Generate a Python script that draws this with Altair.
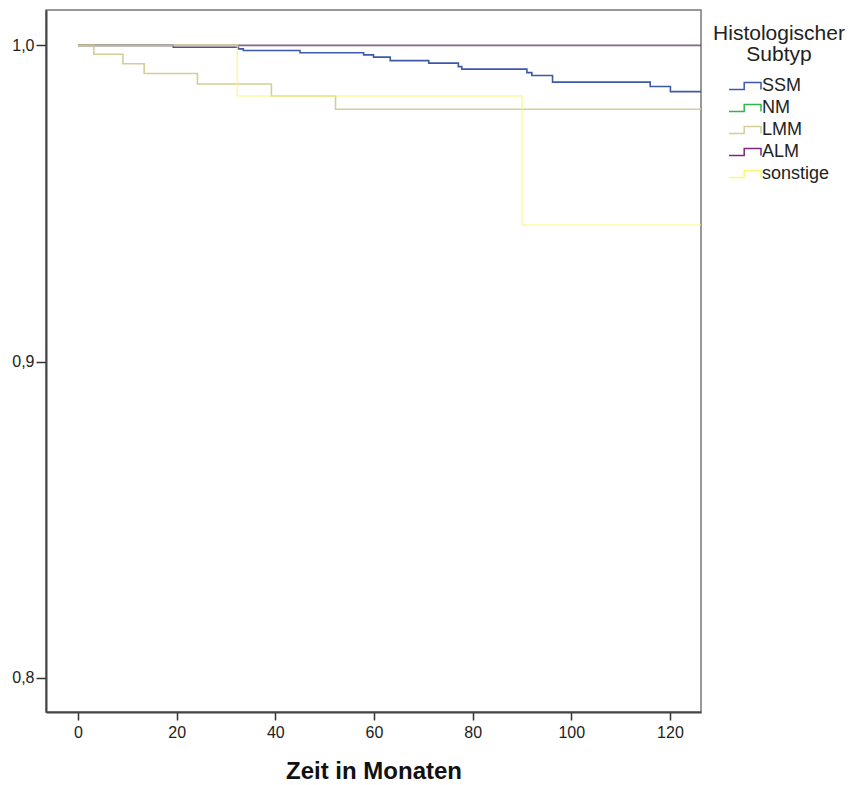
import altair as alt
import pandas as pd

# Kaplan-Meier step curves (time in months, cumulative survival)
series_names = ["SSM", "NM", "LMM", "ALM", "sonstige"]
series_colors = ["#3E58AC", "#2EB848", "#D3CE97", "#7C287D", "#FBF873"]
series_opacity = [1.0, 0.25, 1.0, 0.7, 0.65]

ssm_t = [0, 19.3, 32.5, 33.5, 45.0, 57.9, 59.9, 63.3, 71.1, 77.1, 77.8, 91.0, 92.0, 96.2, 116.0, 120.1, 126.3]
ssm_s = [1.0, 0.9994, 0.9989, 0.9984, 0.9977, 0.9970, 0.9963, 0.9952, 0.9944, 0.9933, 0.9925, 0.9914, 0.9905, 0.9884, 0.9870, 0.9854, 0.9854]

nm_t = [0, 126.3]
nm_s = [1.0, 1.0]

lmm_t = [0, 3.2, 9.1, 13.4, 24.2, 39.2, 52.2, 126.3]
lmm_s = [1.0, 0.9972, 0.9942, 0.9911, 0.9878, 0.9840, 0.9798, 0.9798]

alm_t = [0, 126.3]
alm_s = [1.0, 1.0]

sonst_t = [0, 32.3, 90.0, 126.3]
sonst_s = [1.0, 0.9840, 0.9432, 0.9432]

x_ticks = [0, 20, 40, 60, 80, 100, 120]
y_ticks = [0.8, 0.9, 1.0]

rows = []
for name, ts, ss in [("SSM", ssm_t, ssm_s), ("NM", nm_t, nm_s), ("LMM", lmm_t, lmm_s),
                     ("ALM", alm_t, alm_s), ("sonstige", sonst_t, sonst_s)]:
    for i, (t, s) in enumerate(zip(ts, ss)):
        rows.append({"Subtyp": name, "t": t, "s": s, "i": i})
df = pd.DataFrame(rows)

FONT = "Liberation Sans"

x_enc = alt.X("t:Q", scale=alt.Scale(domain=[-6.5, 126.3], nice=False, zero=False),
              axis=alt.Axis(values=x_ticks, title="Zeit in Monaten", grid=False,
                            tickSize=8, tickColor="#333333", tickWidth=1.5,
                            domainColor="#444444", domainWidth=2,
                            labelFont=FONT, labelFontSize=16, labelColor="#222222",
                            labelPadding=4,
                            titleFont=FONT, titleFontSize=24, titleFontWeight="bold",
                            titleColor="#111111", titlePadding=19))
y_enc = alt.Y("s:Q", scale=alt.Scale(domain=[0.7892, 1.0112], nice=False, zero=False),
              axis=alt.Axis(values=y_ticks, title=None, grid=False,
                            labelExpr="replace(format(datum.value, '.1f'), '.', ',')",
                            tickSize=10, tickColor="#333333", tickWidth=1.5,
                            domainColor="#444444", domainWidth=2,
                            labelFont=FONT, labelFontSize=16, labelColor="#222222",
                            labelPadding=2))
color_enc = alt.Color("Subtyp:N",
                      scale=alt.Scale(domain=series_names, range=series_colors),
                      legend=alt.Legend(
                          title=["Histologischer", "Subtyp"],
                          orient="none", legendX=667, legendY=13,
                          titleFont=FONT, titleFontSize=21, titleFontWeight="normal",
                          titleColor="#222222", titleAlign="center", titleAnchor="middle",
                          titleLineHeight=21, titlePadding=12,
                          labelFont=FONT, labelFontSize=18, labelColor="#222222",
                          labelOffset=8,
                          symbolType="M-2,0.44H-0.1V-0.44H2V0.44",
                          symbolSize=256, symbolStrokeWidth=1.5,
                          symbolFillColor="transparent",
                          symbolOffset=8,
                          rowPadding=4))

layers = []
for name, op in zip(series_names, series_opacity):
    layers.append(
        alt.Chart(df).transform_filter(alt.datum.Subtyp == name)
        .mark_line(interpolate="step-after", strokeWidth=1.6, clip=True, opacity=op)
        .encode(x=x_enc, y=y_enc, color=color_enc, order="i:Q")
    )

chart = alt.layer(*layers).properties(
    width=655, height=702,
    padding={"left": 46, "top": 10, "right": 149, "bottom": 73},
    autosize=alt.AutoSizeParams(type="none"),
    background="white",
).configure_view(stroke="#777777", strokeWidth=1.5)

chart.save("out.html", embed_options={"renderer": "svg", "actions": False})
